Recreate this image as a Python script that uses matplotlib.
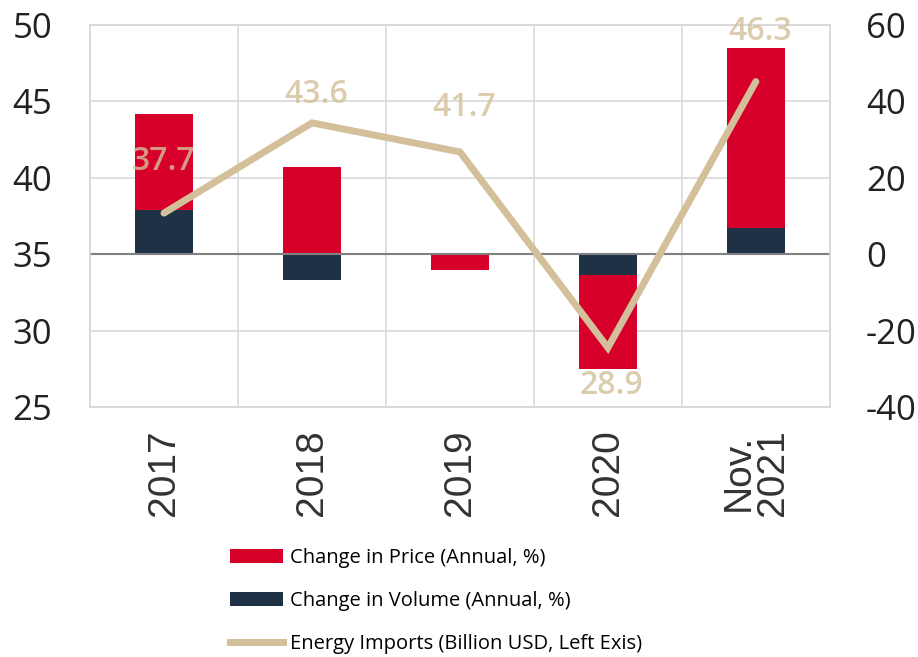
import matplotlib.pyplot as plt
from matplotlib.patches import Patch
from matplotlib.lines import Line2D

plt.rcParams["axes.unicode_minus"] = False

# data
categories = ["2017", "2018", "2019", "2020", "Nov.\n2021"]
price_change = [25.1, 22.8, -4.2, -24.6, 47.1]     # right axis, %
volume_change = [11.5, -6.8, 0.0, -5.5, 6.8]       # right axis, %
energy_imports = [37.7, 43.6, 41.7, 28.9, 46.3]    # left axis, billion USD
imports_labels = ["37.7", "43.6", "41.7", "28.9", "46.3"]

RED = "#D6002A"
NAVY = "#1F3145"
TAN = "#D3C09A"
GRID = "#D9D9D9"

fig = plt.figure(figsize=(9.18, 6.57), dpi=100)
ax2 = fig.add_axes([0.098, 0.380, 0.806, 0.582])   # bars, right scale
ax = ax2.twinx()                                     # line, left scale
ax.yaxis.tick_left()
ax2.yaxis.tick_right()
ax.set_zorder(ax2.get_zorder() + 1)
ax.patch.set_visible(False)

x = list(range(len(categories)))
w = 0.39

# volume sits on zero, price stacked on it when both point the same way
price_bottom = []
for p, v in zip(price_change, volume_change):
    if (p >= 0 and v >= 0) or (p < 0 and v < 0):
        price_bottom.append(v)
    else:
        price_bottom.append(0)

ax2.bar(x, volume_change, width=w, color=NAVY, zorder=2)
ax2.bar(x, price_change, width=w, bottom=price_bottom, color=RED, zorder=2)
ax2.axhline(0, color="#808080", lw=1.5, zorder=3)

ax2.set_ylim(-40, 60)
ax2.set_yticks([-40, -20, 0, 20, 40, 60])
ax.set_ylim(25, 50)
ax.set_yticks([25, 30, 35, 40, 45, 50])

ax2.set_xlim(-0.5, len(categories) - 0.5)
ax2.set_xticks(x)
ax2.set_xticklabels(categories, rotation=90, fontsize=28,
                    family="Liberation Sans", color="#333333", linespacing=0.95)
ax2.set_xticks([i + 0.5 for i in x[:-1]], minor=True)
ax2.grid(True, which="major", axis="y", color=GRID, lw=1.2, zorder=0)
ax2.grid(True, which="minor", axis="x", color=GRID, lw=1.2, zorder=0)
ax2.set_axisbelow(True)

ax.plot(x, energy_imports, color=TAN, lw=5, solid_capstyle="round",
        solid_joinstyle="miter", zorder=4)

offsets = [52, 28, 44, -38, 50]
for xi, yv, lab, off in zip(x, energy_imports, imports_labels, offsets):
    ax.annotate(lab, (xi, yv), xytext=(4 if xi > 0 else 0, off), textcoords="offset pixels",
                ha="center", va="center", fontsize=23, fontweight=600,
                family="Open Sans", color=TAN, alpha=0.8, zorder=5)

for a in (ax, ax2):
    for s in a.spines.values():
        s.set_color(GRID)
        s.set_linewidth(1.2)
    a.tick_params(which="both", length=0)

ax.tick_params(axis="y", labelsize=25, labelcolor="#222222", pad=27)
ax2.tick_params(axis="y", labelsize=25, labelcolor="#222222", pad=26)
for a in (ax, ax2):
    for t in a.get_yticklabels():
        t.set_family("Open Sans")
ax2.tick_params(axis="x", pad=16)

handles = [
    Patch(facecolor=RED, label="Change in Price (Annual, %)"),
    Patch(facecolor=NAVY, label="Change in Volume (Annual, %)"),
    Line2D([0], [0], color=TAN, lw=5, label="Energy Imports (Billion USD, Left Exis)"),
]
fig.legend(handles=handles, loc="upper left", bbox_to_anchor=(0.242, 0.178),
           frameon=False, prop={"family": "Open Sans", "size": 14.5},
           handlelength=2.6, handleheight=0.7, handletextpad=0.35,
           labelspacing=1.15, borderaxespad=0)

fig.savefig("out.png", dpi=100)
